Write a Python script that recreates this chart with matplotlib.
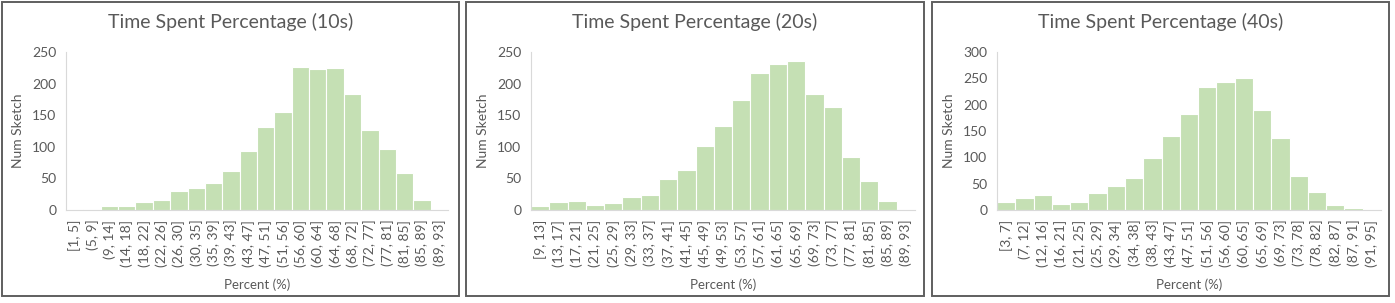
import matplotlib.pyplot as plt
from matplotlib.patches import Rectangle

plt.rcParams['font.family'] = ['Lato', 'DejaVu Sans']

# bins and counts
labels_10 = ['[1, 5]', '(5, 9]', '(9, 14]', '(14, 18]', '(18, 22]', '(22, 26]', '(26, 30]',
             '(30, 35]', '(35, 39]', '(39, 43]', '(43, 47]', '(47, 51]', '(51, 56]', '(56, 60]',
             '(60, 64]', '(64, 68]', '(68, 72]', '(72, 77]', '(77, 81]', '(81, 85]', '(85, 89]',
             '(89, 93]']
counts_10 = [1.5, 1.5, 6, 6, 13, 16, 30, 35, 43, 61, 93, 131, 155, 227,
             223, 224, 183, 126, 97, 59, 16, 0.5]

labels_20 = ['[9, 13]', '(13, 17]', '(17, 21]', '(21, 25]', '(25, 29]', '(29, 33]', '(33, 37]',
             '(37, 41]', '(41, 45]', '(45, 49]', '(49, 53]', '(53, 57]', '(57, 61]', '(61, 65]',
             '(65, 69]', '(69, 73]', '(73, 77]', '(77, 81]', '(81, 85]', '(85, 89]', '(89, 93]']
counts_20 = [6, 12, 14, 8.5, 11.5, 20, 24, 49.5, 63, 101.5, 133.5, 174, 217, 230.5,
             236, 183.5, 163.5, 84, 46, 13.5, 0.8]

labels_40 = ['[3, 7]', '(7, 12]', '(12, 16]', '(16, 21]', '(21, 25]', '(25, 29]', '(29, 34]',
             '(34, 38]', '(38, 43]', '(43, 47]', '(47, 51]', '(51, 56]', '(56, 60]', '(60, 65]',
             '(65, 69]', '(69, 73]', '(73, 78]', '(78, 82]', '(82, 87]', '(87, 91]', '(91, 95]']
counts_40 = [16, 23.5, 28.5, 11.5, 16, 33, 45, 61, 98.5, 141, 183, 234, 243, 250,
             190, 136.5, 64, 34, 10, 3, 0.8]

titles = ['Time Spent Percentage (10s)', 'Time Spent Percentage (20s)', 'Time Spent Percentage (40s)']
ymaxes = [250, 250, 300]

W, H = 1395, 303
fig = plt.figure(figsize=(W / 100, H / 100), dpi=100)

# pixel boxes: (border left, border right, plot left, plot right)
boxes = [(2, 459, 66, 448), (466, 924, 531, 915), (932, 1389, 997, 1381)]
plot_top, plot_bot = 52, 210
grey = '#595959'

data = [(labels_10, counts_10), (labels_20, counts_20), (labels_40, counts_40)]
for (bl, br, pl, pr), (labs, vals), title, ymax in zip(boxes, data, titles, ymaxes):
    fig.patches.append(Rectangle((bl / W, 7 / H), (br - bl) / W, (301 - 7) / H,
                                 transform=fig.transFigure, fill=False,
                                 edgecolor='#5f5f5f', linewidth=1.4))
    ax = fig.add_axes([pl / W, (H - plot_bot) / H, (pr - pl) / W, (plot_bot - plot_top) / H])
    x = list(range(len(vals)))
    ax.bar(x, vals, width=1.0, color='#C5E0B4', edgecolor='white', linewidth=0.8)
    ax.set_xlim(-0.5, len(vals) - 0.5)
    ax.set_ylim(0, ymax)
    ax.set_yticks(range(0, ymax + 1, 50))
    ax.set_xticks(x)
    ax.set_xticklabels(labs, rotation=90)
    for s in ['top', 'right']:
        ax.spines[s].set_visible(False)
    for s in ['left', 'bottom']:
        ax.spines[s].set_color('#D9D9D9')
        ax.spines[s].set_linewidth(0.8)
    ax.tick_params(axis='both', length=0, labelsize=10, colors=grey)
    ax.tick_params(axis='y', pad=7)
    ax.tick_params(axis='x', pad=7)
    ax.set_ylabel('Num Sketch', fontsize=10, color=grey, labelpad=6)
    ax.set_xlabel('Percent (%)', fontsize=9.5, color=grey, labelpad=8)
    fig.text((bl + br) / 2 / W, 1 - 22 / H, title, ha='center', va='center',
             fontsize=14, color=grey)

fig.savefig('out.png', dpi=100)
